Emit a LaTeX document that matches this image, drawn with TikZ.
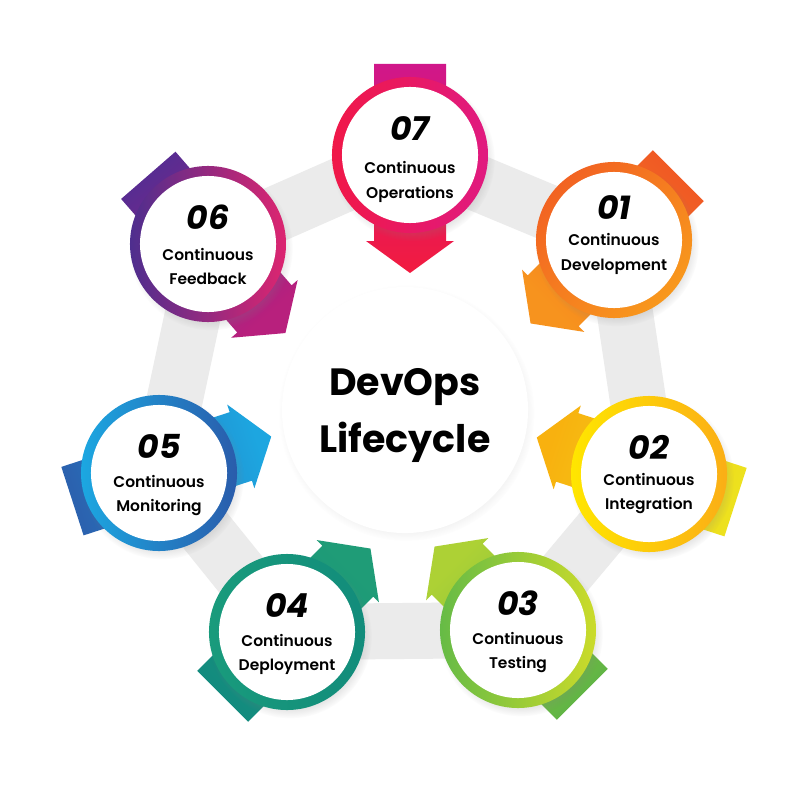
\documentclass[tikz,border=0pt]{standalone}
\usepackage{fontspec}
\setmainfont{Poppins}
\newfontfamily\labelfont{Poppins SemiBold}
\usetikzlibrary{shadows}

\definecolor{band}{HTML}{EBEBEB}
\definecolor{ringA07}{HTML}{F01848}\definecolor{ringB07}{HTML}{E01A80}
\definecolor{ringA01}{HTML}{F26322}\definecolor{ringB01}{HTML}{F8981D}
\definecolor{ringA02}{HTML}{FFE600}\definecolor{ringB02}{HTML}{FBAE16}
\definecolor{ringA03}{HTML}{66BB46}\definecolor{ringB03}{HTML}{CBDB2A}
\definecolor{ringA04}{HTML}{199B7C}\definecolor{ringB04}{HTML}{128C7B}
\definecolor{ringA05}{HTML}{1CA7E1}\definecolor{ringB05}{HTML}{2A5CAB}
\definecolor{ringA06}{HTML}{4E2E8E}\definecolor{ringB06}{HTML}{DD2570}
\definecolor{tail07}{HTML}{D0178A}\definecolor{head07}{HTML}{F21B3F}
\definecolor{tail01}{HTML}{F05A24}\definecolor{head01}{HTML}{F7931E}
\definecolor{tail02}{HTML}{EDE11E}\definecolor{head02}{HTML}{F8B10F}
\definecolor{tail03}{HTML}{62B545}\definecolor{head03}{HTML}{ADD135}
\definecolor{tail04}{HTML}{138B7E}\definecolor{head04}{HTML}{1F9C77}
\definecolor{tail05}{HTML}{2B62AF}\definecolor{head05}{HTML}{1DA6E0}
\definecolor{tail06}{HTML}{592C91}\definecolor{head06}{HTML}{B8207D}

\begin{document}
\begin{tikzpicture}[x=0.025cm, y=-0.025cm,
  bandline/.style={draw=band, line width=1.4cm, line join=round},
  hub/.style={circle, fill=white, minimum size=6.15cm, circular drop shadow={shadow xshift=1pt, shadow yshift=-2pt, opacity=0.18, shadow scale=1.04}},
  ring/.style={circle, minimum size=3.9cm, circular drop shadow={shadow xshift=2pt, shadow yshift=-3pt, opacity=0.25, shadow scale=1.05}},
  disc/.style={circle, fill=white, minimum size=3.4cm},
  num/.style={font=\bfseries\itshape\fontsize{23.5}{23.5}\selectfont, yshift=19pt},
  lbl/.style={font=\labelfont\fontsize{11}{17.5}\selectfont, align=center, yshift=-16pt},
  stagearrow/.style={insert path={(-91,-36) -- (86,-36) -- (86,-44) -- (118,0) -- (86,44) -- (86,36) -- (-91,36) -- cycle}}]
\fill[white] (0,0) rectangle (800,800);
\useasboundingbox (0,0) rectangle (800,800);

\coordinate (c07) at (410,155);
\coordinate (c01) at (614,240);
\coordinate (c02) at (649,474);
\coordinate (c03) at (518,630);
\coordinate (c04) at (287,632);
\coordinate (c05) at (159,473);
\coordinate (c06) at (208,244);

\draw [bandline] (c07) -- (c01) -- (c02) -- (c03) -- (c04) -- (c05) -- (c06) -- cycle;

\node [hub, font=\bfseries\fontsize{27}{40}\selectfont, align=center] (hub) at (405,410) {};
\node [font=\bfseries\fontsize{27}{40}\selectfont, align=center, yshift=-4pt] (hubtext) at (hub) {DevOps\\Lifecycle};

\shade [shift={(c07)}, rotate=270, left color=tail07, right color=head07, shading angle=0, stagearrow];
\shade [shift={(c01)}, rotate=225, left color=tail01, right color=head01, shading angle=315, stagearrow];
\shade [shift={(c02)}, rotate=162, left color=tail02, right color=head02, shading angle=252, stagearrow];
\shade [shift={(c03)}, rotate=135, left color=tail03, right color=head03, shading angle=225, stagearrow];
\shade [shift={(c04)}, rotate=45, left color=tail04, right color=head04, shading angle=135, stagearrow];
\shade [shift={(c05)}, rotate=18, left color=tail05, right color=head05, shading angle=108, stagearrow];
\shade [shift={(c06)}, rotate=311, left color=tail06, right color=head06, shading angle=41, stagearrow];

\node [ring, left color=ringA07, right color=ringB07] (ring07) at (c07) {};
\node [ring, left color=ringA01, right color=ringB01, shading angle=45] (ring01) at (c01) {};
\node [ring, left color=ringA02, right color=ringB02] (ring02) at (c02) {};
\node [ring, left color=ringA03, right color=ringB03] (ring03) at (c03) {};
\node [ring, left color=ringA04, right color=ringB04] (ring04) at (c04) {};
\node [ring, left color=ringA05, right color=ringB05] (ring05) at (c05) {};
\node [ring, left color=ringA06, right color=ringB06] (ring06) at (c06) {};

\node [disc] (disc07) at (ring07) {};
\node [disc] (disc01) at (ring01) {};
\node [disc] (disc02) at (ring02) {};
\node [disc] (disc03) at (ring03) {};
\node [disc] (disc04) at (ring04) {};
\node [disc] (disc05) at (ring05) {};
\node [disc] (disc06) at (ring06) {};

\node [num] (num07) at (disc07) {07};
\node [lbl, yshift=-3pt] (lbl07) at (disc07) {Continuous\\Operations};
\node [num, yshift=4pt] (num01) at (disc01) {01};
\node [lbl, yshift=6pt] (lbl01) at (disc01) {Continuous\\Development};
\node [num] (num02) at (disc02) {02};
\node [lbl, yshift=2pt] (lbl02) at (disc02) {Continuous\\Integration};
\node [num] (num03) at (disc03) {03};
\node [lbl] (lbl03) at (disc03) {Continuous\\Testing};
\node [num] (num04) at (disc04) {04};
\node [lbl] (lbl04) at (disc04) {Continuous\\Deployment};
\node [num] (num05) at (disc05) {05};
\node [lbl] (lbl05) at (disc05) {Continuous\\Monitoring};
\node [num] (num06) at (disc06) {06};
\node [lbl] (lbl06) at (disc06) {Continuous\\Feedback};

\end{tikzpicture}
\end{document}
